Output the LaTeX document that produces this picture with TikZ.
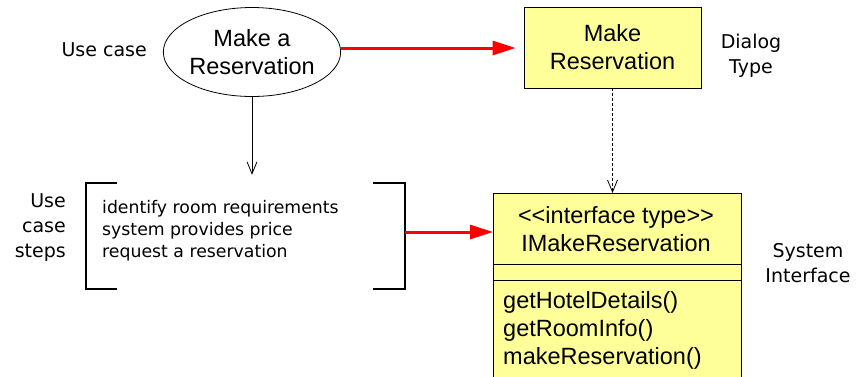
\documentclass[tikz,border=0pt]{standalone}
\usepackage{fontspec}
\setmainfont{Liberation Sans}
\newfontfamily\comicf{DejaVu Sans}
\usetikzlibrary{arrows.meta,shapes.geometric,calc}
\definecolor{boxyellow}{HTML}{FFFF99}
\tikzset{
  umlfont/.style={font=\fontsize{23.5}{28}\selectfont, align=center},
  lbl/.style={font=\comicf\fontsize{19}{25}\selectfont, align=center, inner sep=0},
  redarrow/.style={draw=red, line width=3pt, -{Triangle[length=23pt,width=14pt]}},
  plainarrow/.style={draw=black, line width=0.8pt, -{Straight Barb[length=12pt,width=10pt,line width=0.8pt]}},
  dasharrow/.style={draw=black, line width=0.8pt, dash pattern=on 3pt off 2pt, -{Straight Barb[length=12pt,width=10pt,line width=0.8pt]}},
  yellowbox/.style={draw=black, line width=0.8pt, fill=boxyellow, inner sep=0},
}
\begin{document}
\begin{tikzpicture}[x=1pt,y=-1pt]
\path[use as bounding box, clip] (0,0) rectangle (862,376);
\fill[white] (0,0) rectangle (862,376);

% use case ellipse
\node[ellipse, draw=black, line width=0.8pt, minimum width=177pt, minimum height=89pt, inner sep=0, umlfont] (uc) at (252,52) {Make a\\Reservation};
\node[lbl, anchor=east] (uclbl) at (147,50) {Use case};

% dialog type box
\node[yellowbox, minimum width=177pt, minimum height=81pt, umlfont] (dlg) at (612.5,47.5) {Make\\Reservation};
\node[lbl] (dlglbl) at (751,56) {Dialog\\Type};

% use case steps
\node[minimum width=319pt, minimum height=106pt, inner sep=0] (steps) at (245.5,236) {};
\draw[line width=1.6pt] ($(steps.north west)+(31,0)$) -- (steps.north west) -- (steps.south west) -- ($(steps.south west)+(31,0)$);
\draw[line width=1.6pt] ($(steps.north east)+(-32,0)$) -- (steps.north east) -- (steps.south east) -- ($(steps.south east)+(-32,0)$);
\node[anchor=west, align=left, inner sep=0, font=\comicf\fontsize{17.3}{22}\selectfont] (stepstxt) at (102,231) {identify room requirements\\system provides price\\request a reservation};
\node[lbl, anchor=east, align=right] (stepslbl) at (66,228) {Use\\case\\steps};

% interface box
\node[yellowbox, anchor=north west, minimum width=248pt, minimum height=200pt] (iface) at (493,193) {};
\draw[line width=0.8pt] (iface.west |- 0,264) -- (iface.east |- 0,264);
\draw[line width=0.8pt] (iface.west |- 0,280) -- (iface.east |- 0,280);
\node[umlfont, inner sep=0] (ifname) at (616,229) {<{}<interface type>{}>\\IMakeReservation};
\node[umlfont, align=left, anchor=west, inner sep=0] (ifops) at (503,330) {getHotelDetails()\\getRoomInfo()\\makeReservation()};
\node[lbl] (iflbl) at (808,263) {System\\Interface};

% connectors
\coordinate (sa) at ($(steps.east)+(0,-4)$);
\draw[redarrow, shorten >=8pt] (uc.east |- 0,48) -- (dlg.west |- 0,48);
\draw[plainarrow, shorten >=8pt] (uc.south) -- (uc.south |- steps.north);
\draw[dasharrow] (dlg.south) -- (dlg.south |- iface.north);
\draw[redarrow] (sa) -- (sa -| iface.west);
\end{tikzpicture}
\end{document}
